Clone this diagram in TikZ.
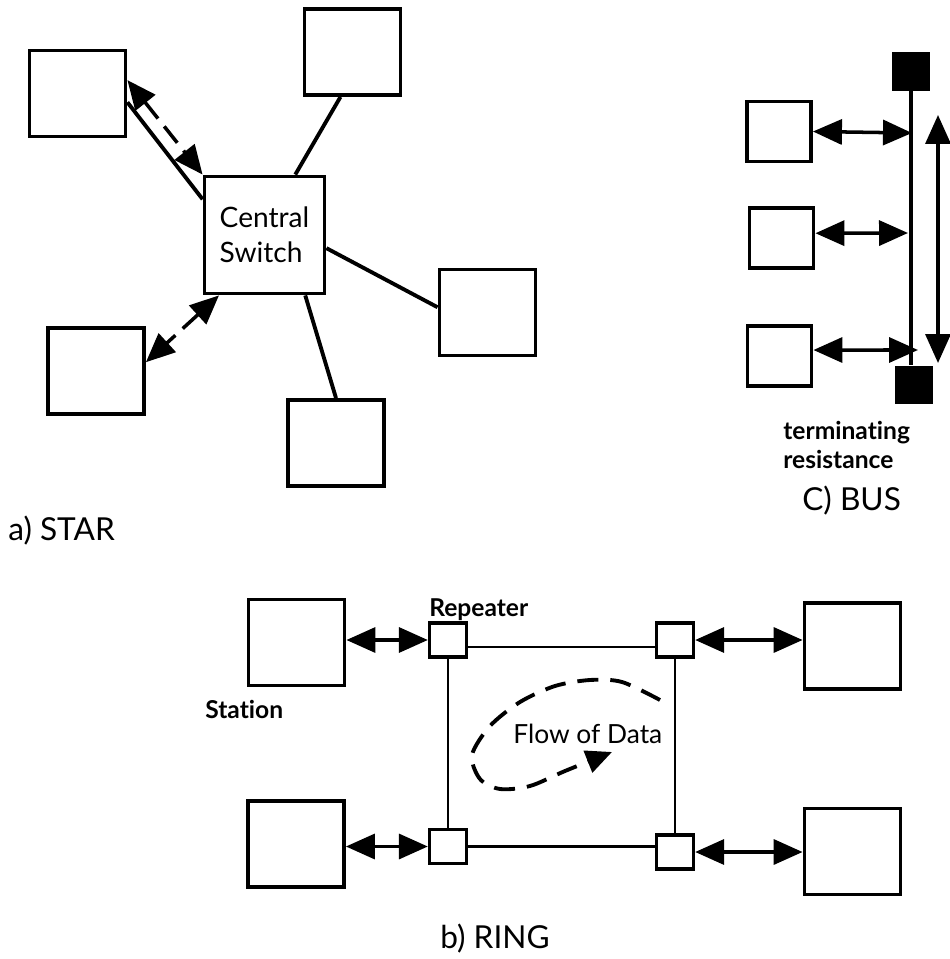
\documentclass[tikz,border=0pt]{standalone}
\usepackage{fontspec}
\setmainfont[Ligatures=NoCommon]{Lato}
\usepackage{tikz}
\usetikzlibrary{arrows.meta, positioning}

\begin{document}
\begin{tikzpicture}[
    x=0.02cm, y=-0.02cm,
    every node/.style={font=\fontsize{16}{20}\selectfont},
    station/.style={rectangle, draw=black, line width=2.2pt, minimum width=1.92cm, minimum height=1.72cm, inner sep=0pt},
    hub/.style={station, minimum width=2.4cm, minimum height=2.34cm, align=left},
    busstation/.style={station, minimum width=1.28cm, minimum height=1.2cm},
    terminator/.style={rectangle, fill=black, minimum width=0.76cm, minimum height=0.78cm, inner sep=0pt},
    repeater/.style={rectangle, draw=black, line width=1.9pt, minimum width=0.74cm, minimum height=0.68cm, inner sep=0pt},
    title/.style={font=\fontsize{18}{22}\selectfont, inner sep=0pt},
    note/.style={font=\fontsize{14}{17}\selectfont\bfseries, inner sep=0pt},
    link/.style={line width=2.2pt},
    ringlink/.style={line width=1.6pt},
    arrow/.style={<->, >={Triangle[length=0.58cm, width=0.5cm]}, line width=2pt},
    dasharrow/.style={arrow, dash pattern=on 0.42cm off 0.2cm},
    flow/.style={-{Triangle[length=0.52cm, width=0.46cm]}, line width=2.2pt, dash pattern=on 0.42cm off 0.24cm}
]
\useasboundingbox (0,0) rectangle (949,959);

% Star
\node[station] (s1) at (77.5,93.5) {};
\node[station] (s2) at (352.5,52) {};
\node[hub] (sw) at (264.5,235) {Central\\Switch};
\node[station] (s3) at (96,371) {};
\node[station] (s4) at (487.5,312.5) {};
\node[station] (s5) at (336,443) {};
\node[title, anchor=base west] (star) at (8,540) {a) STAR};

\draw[link] (s1.-10) -- (sw.150);
\draw[dasharrow] (s1.15) -- (sw.north west);
\draw[link] (s2.255) -- (sw.63);
\draw[link] (sw.-12) -- (s4.174);
\draw[link] (sw.-56) -- (s5.north);
\draw[dasharrow] (sw.233) -- (s3.10);

% Bus
\node[terminator] (t1) at (911,71.5) {};
\node[terminator] (t2) at (914,385) {};
\node[busstation] (b1) at (779,131.5) {};
\node[busstation] (b2) at (781.5,238) {};
\node[busstation] (b3) at (779.5,356) {};
\coordinate (j1) at (912,133);
\coordinate (j2) at (908,233);
\coordinate (j3) at (918,350);
\coordinate (vtop) at (938,115);
\coordinate (vbot) at (938,363);
\node[note, anchor=west, align=left] (res) at (783,445) {terminating\\resistance};
\node[title, anchor=base west] (bus) at (802,510) {C) BUS};

\draw[link] (t1.south) -- (t1.south |- t2.north);
\draw[arrow] (b1.east) -- (j1);
\draw[arrow] (b2.8) -- (j2);
\draw[arrow] (b3.10) -- (j3);
\draw[arrow] (vtop) -- (vbot);

% Ring
\node[station] (r1) at (296.5,642.5) {};
\node[station] (r2) at (296,844) {};
\node[station] (r3) at (852.5,646) {};
\node[station] (r4) at (852.5,851.5) {};
\node[repeater] (p1) at (448,640) {};
\node[repeater] (p2) at (448,846.5) {};
\node[repeater] (p3) at (675,640) {};
\node[repeater] (p4) at (675,852) {};
\node[note, anchor=base west] (rep) at (429,616) {Repeater};
\node[note, anchor=base west] (sta) at (205,718) {Station};
\node[inner sep=0pt, anchor=base west, font=\fontsize{15}{18}\selectfont] (data) at (513,743) {Flow of Data};
\node[title, anchor=base west] (ring) at (440,948) {b) RING};

\draw[ringlink] (p1.-19) -- (p3.199);
\draw[ringlink] (p1.south) -- (p2.north);
\draw[ringlink] (p3.south) -- (p4.north);
\draw[ringlink] (p2.east) -- (p2.east -| p4.west);
\draw[arrow] (r1.east |- p1.west) -- (p1.west);
\draw[arrow] (r2.east |- p2.west) -- (p2.west);
\draw[arrow] (p3.east) -- (p3.east -| r3.west);
\draw[arrow] (p4.east) -- (p4.east -| r4.west);
\draw[flow] plot[smooth] coordinates {(660,700) (622,682) (590,680) (555,686) (520,702) (490,726) (472,755) (480,779) (500,789) (530,786) (565,771) (612,752)};

\end{tikzpicture}
\end{document}
